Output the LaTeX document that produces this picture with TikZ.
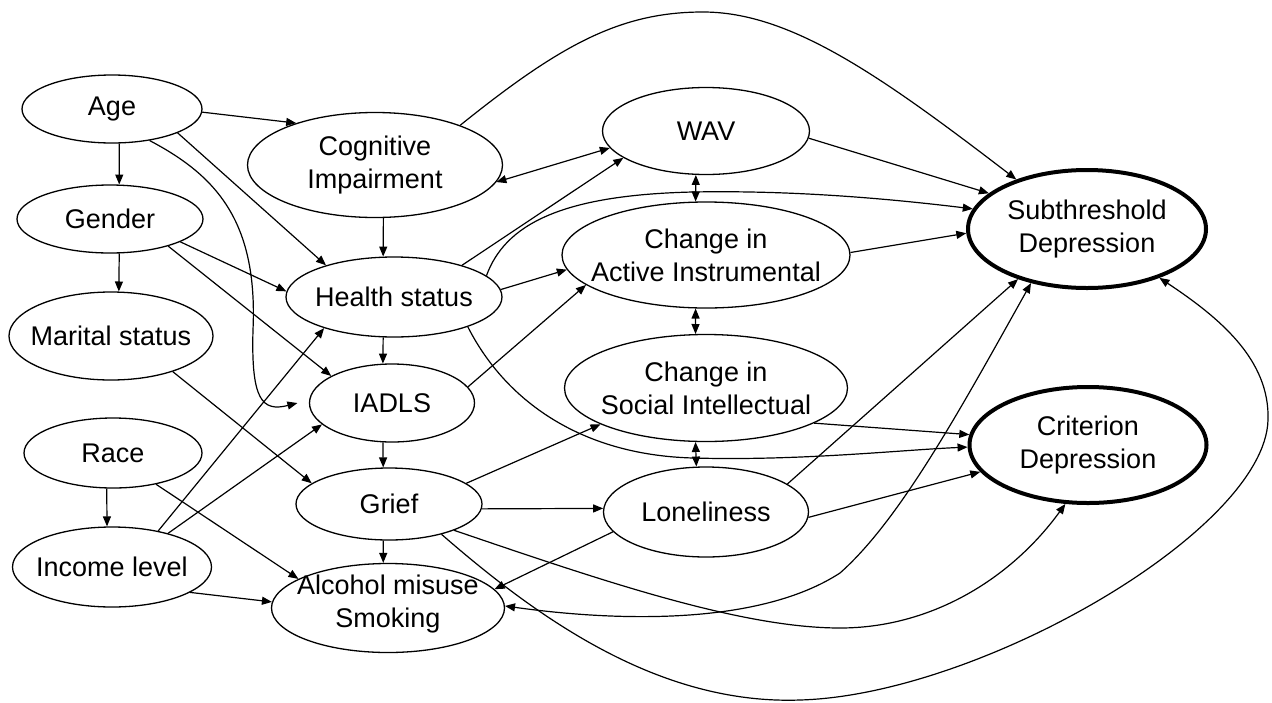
\documentclass[tikz,border=0pt]{standalone}
\usepackage{fontspec}
\setmainfont{Liberation Sans}
\usetikzlibrary{shapes.geometric,arrows.meta}
\begin{document}
\begin{tikzpicture}[x=1pt,y=-1pt,
  ell/.style={ellipse, draw, line width=1.3pt, inner sep=0pt},
  dep/.style={ellipse, draw, line width=4pt, inner sep=0pt},
  txt/.style={font=\fontsize{27}{33}\selectfont, align=center, inner sep=0pt},
  arr/.style={line width=1.2pt, -{Triangle[length=10pt,width=8pt]}},
  darr/.style={line width=1.2pt, {Triangle[length=10pt,width=8pt]}-{Triangle[length=10pt,width=8pt]}}
]
\useasboundingbox (0,0) rectangle (1272,702);
\fill[white] (0,0) rectangle (1272,702);

% left column
\node[ell, minimum width=180pt, minimum height=68pt] (age) at (112,109) {};
\node[txt] (ageT) at (age) {Age};
\node[ell, minimum width=186pt, minimum height=68pt] (gender) at (110,219) {};
\node[txt] (genderT) at (gender) {Gender};
\node[ell, minimum width=204pt, minimum height=88pt] (marital) at (111,336) {};
\node[txt] (maritalT) at (marital) {Marital status};
\node[ell, minimum width=178pt, minimum height=70pt] (race) at (113,453) {};
\node[txt] (raceT) at (race) {Race};
\node[ell, minimum width=199pt, minimum height=80pt] (income) at (112,567) {};
\node[txt] (incomeT) at (income) {Income level};

% second column
\node[ell, minimum width=255pt, minimum height=105pt] (cog) at (375,165) {};
\node[txt] (cogT) at (cog) {Cognitive\\Impairment};
\node[ell, minimum width=216pt, minimum height=80pt] (health) at (394,297) {};
\node[txt] (healthT) at (health) {Health status};
\node[ell, minimum width=165pt, minimum height=78pt] (iadls) at (392,403) {};
\node[txt] (iadlsT) at (iadls) {IADLS};
\node[ell, minimum width=186pt, minimum height=72pt] (grief) at (389,504) {};
\node[txt] (griefT) at (grief) {Grief};
\node[ell, minimum width=233pt, minimum height=89pt] (alcohol) at (388,608) {};
\node[txt] (alcoholT) at (388,604) {Alcohol misuse\\Smoking};

% third column
\node[ell, minimum width=207pt, minimum height=87pt] (wav) at (706,131) {};
\node[txt] (wavT) at (wav) {WAV};
\node[ell, minimum width=288pt, minimum height=106pt] (active) at (706,255) {};
\node[txt] (activeT) at (active) {Change in\\Active Instrumental};
\node[ell, minimum width=283pt, minimum height=107pt] (social) at (706,388) {};
\node[txt] (socialT) at (social) {Change in\\Social Intellectual};
\node[ell, minimum width=205pt, minimum height=90pt] (lonely) at (706,512) {};
\node[txt] (lonelyT) at (lonely) {Loneliness};

% outcomes
\node[dep, minimum width=238pt, minimum height=118pt] (sub) at (1087,229) {};
\node[txt] (subT) at (sub) {Subthreshold\\Depression};
\node[dep, minimum width=237pt, minimum height=116pt] (crit) at (1088,445) {};
\node[txt] (critT) at (crit) {Criterion\\Depression};

% edges from left column
\draw[arr] (age.-78) -- (gender.75);
\draw[arr] (age.-2) -- (cog.152);
\draw[arr] (age.-20) -- (health.155);
\draw[arr,shorten >=12pt] (age.-40) .. controls (215,175) and (258,220) .. (253,330) .. controls (251,400) and (262,412) .. (iadls.178);
\draw[arr] (gender.-75) -- (marital.80);
\draw[arr] (gender.-18) -- (health.177);
\draw[arr] (gender.-25) -- (iadls.156);
\draw[arr] (marital.-30) -- (grief.165);
\draw[arr] (race.-100) -- (income.97);
\draw[arr] (race.-36) -- (alcohol.162);
\draw[arr] (income.38) -- (health.204);
\draw[arr] (income.31) -- (iadls.197);
\draw[arr] (income.-18) -- (alcohol.177);

% second column
\draw[arr] (cog.-81) -- (health.105);
\draw[arr] (health.-105) -- (iadls.103);
\draw[arr] (iadls.-103) -- (grief.99.5);
\draw[arr] (grief.-99.5) -- (alcohol.96.5);
\draw[darr] (cog.-8) -- (wav.190);
\draw[arr] (cog.25) .. controls (560,45) and (620,12) .. (703,12) .. controls (790,12) and (880,75) .. (sub.145);
\draw[arr] (health.25) -- (wav.198);
\draw[arr] (health.13) .. controls (505,225) and (560,195) .. (693,192) .. controls (800,190) and (900,200) .. (sub.170);
\draw[arr] (health.4) -- (active.186);
\draw[arr] (iadls.12) -- (active.194);
\draw[arr] (health.-22) .. controls (505,400) and (580,455) .. (693,458) .. controls (800,461) and (900,450) .. (crit.181);
\draw[arr] (grief.15) -- (social.199);
\draw[arr] (grief.-3) -- (lonely.178);
\draw[arr] (grief.-22) .. controls (600,580) and (740,628) .. (840,628) .. controls (930,628) and (1010,580) .. (crit.249);
\draw[arr] (grief.-30) .. controls (540,620) and (660,705) .. (800,700) .. controls (980,695) and (1265,530) .. (1268,420) .. controls (1270,360) and (1220,318) .. (sub.-34);

% third column
\draw[arr] (wav.-4) -- (sub.160);
\draw[darr] (wav.257) -- (active.101);
\draw[arr] (active.1) -- (sub.182);
\draw[darr] (active.259) -- (social.101);
\draw[arr] (social.-18) -- (crit.175);
\draw[darr] (social.259.5) -- (lonely.102.5);
\draw[arr] (lonely.19) -- (sub.216);
\draw[arr] (lonely.-3) -- (crit.194);
\draw[arr] (lonely.192) -- (alcohol.10);
\draw[darr] (alcohol.1) .. controls (620,622) and (760,625) .. (840,573) .. controls (900,520) and (960,410) .. (sub.224);
\end{tikzpicture}
\end{document}
